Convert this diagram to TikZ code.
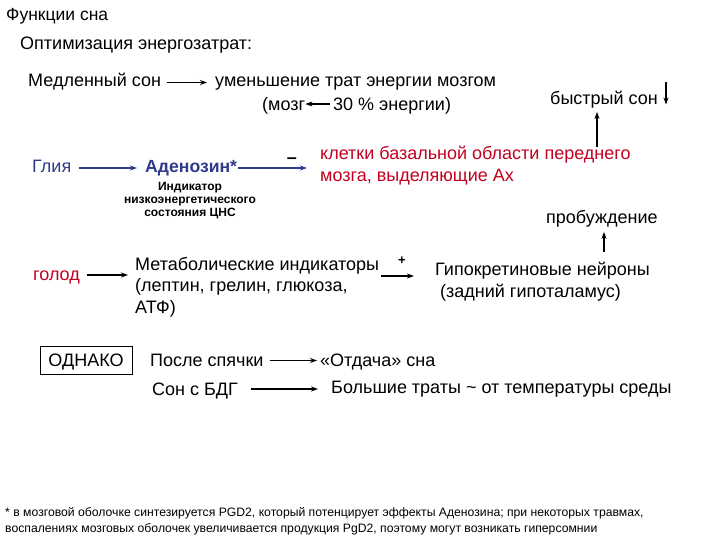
\documentclass[tikz,border=0pt]{standalone}
\usepackage{fontspec}
\setmainfont{Liberation Sans}
\usetikzlibrary{arrows.meta}
\definecolor{navy}{HTML}{2E3A8C}
\definecolor{dred}{HTML}{C40020}
\begin{document}
\begin{tikzpicture}[x=1pt,y=-1pt,
  t/.style={anchor=base west,inner sep=0pt,font=\fontsize{18}{22}\selectfont},
  ind/.style={anchor=base,inner sep=0pt,font=\bfseries\fontsize{12}{14}\selectfont},
  small/.style={anchor=base west,inner sep=0pt,font=\fontsize{12.2}{16}\selectfont},
  arr/.style={-{Stealth[length=7pt,width=5pt]},line width=1.1pt},
]
\useasboundingbox (0,0) rectangle (720,540);
\fill[white] (0,0) rectangle (720,540);

\node[t,font=\fontsize{17.5}{20}\selectfont] (title) at (6,21) {Функции сна};
\node[t] (opt) at (20,50) {Оптимизация энергозатрат:};

% row 1
\node[t] (med) at (28,86.5) {Медленный сон};
\node[t] (umen) at (215,86.5) {уменьшение трат энергии мозгом};
\draw[arr] ([xshift=6pt,yshift=4pt]med.base east) -- ([xshift=-8pt,yshift=4pt]umen.base west);
\node[t] (mozg) at (262,111) {(мозг};
\node[t] (pct) at (333,111) {30 \% энергии)};
\draw[arr] ([xshift=-3pt,yshift=7pt]pct.base west) -- ([xshift=0pt,yshift=7pt]mozg.base east);

\node[t] (bys) at (550,105) {быстрый сон};
\coordinate (dnA) at (666,82.5);
\coordinate (dnB) at (666,104.5);
\draw[arr] (dnA) -- (dnB);

% row 2
\node[t,navy] (glia) at (32,173) {Глия};
\node[t,navy,font=\bfseries\fontsize{17.6}{20}\selectfont] (aden) at (145,173) {Аденозин*};
\draw[arr,navy] ([xshift=8pt,yshift=5pt]glia.base east) -- ([xshift=-8pt,yshift=5pt]aden.base west);
\node[t,dred] (klet1) at (320,160) {клетки базальной области переднего};
\node[t,dred] (klet2) at (320,182) {мозга, выделяющие Ах};
\draw[arr,navy] ([xshift=1pt,yshift=5pt]aden.base east) coordinate (a1) -- ([xshift=-13pt]klet1.west |- a1);
\node[inner sep=0pt,font=\bfseries\fontsize{18}{20}\selectfont] (minus) at (292,161) {–};
\node[ind] (ind1) at (190,190.7) {Индикатор};
\node[ind] (ind2) at (190,204) {низкоэнергетического};
\node[ind] (ind3) at (190,216.7) {состояния ЦНС};
\draw[arr] ([xshift=277pt,yshift=-1pt]klet1.north west) coordinate (kt) -- ([yshift=-3pt]kt |- bys.south);

\node[t] (prob) at (546,223) {пробуждение};

% row 3
\node[t,dred] (golod) at (33,280) {голод};
\node[t] (meta1) at (135,270) {Метаболические индикаторы};
\node[t] (meta2) at (135,291.5) {(лептин, грелин, глюкоза,};
\node[t] (meta3) at (135,313) {АТФ)};
\node[t] (gipo1) at (435,275) {Гипокретиновые нейроны};
\node[t] (gipo2) at (440,297) {(задний гипоталамус)};
\draw[arr] ([xshift=7pt,yshift=5pt]golod.base east) coordinate (g1) -- ([xshift=-7pt]meta1.west |- g1);
\draw[arr] ([xshift=2pt,yshift=-6pt]meta1.base east) coordinate (m1) -- ([xshift=-21pt]gipo1.west |- m1);
\node[inner sep=0pt,font=\bfseries\fontsize{13}{16}\selectfont] (plus) at (402,261) {+};
\draw[arr] ([xshift=169pt,yshift=9pt]gipo1.north west) coordinate (gt) -- ([yshift=-5pt]gt |- prob.south);

% row 4
\node[draw,line width=0.8pt,inner sep=0pt,minimum width=92pt,minimum height=28pt,text height=12.9pt,text depth=0pt,font=\fontsize{18}{20}\selectfont] (odn) at (86,360) {ОДНАКО};
\node[t] (posle) at (150,366.5) {После спячки};
\node[t] (otd) at (320,366) {«Отдача» сна};
\draw[arr] ([xshift=6pt,yshift=6pt]posle.base east) coordinate (p1) -- ([xshift=-3pt]otd.west |- p1);
\node[t] (son) at (152,395) {Сон с БДГ};
\node[t] (bol) at (331,393) {Большие траты \textasciitilde{} от температуры среды};
\draw[arr] ([xshift=13pt,yshift=6pt]son.base east) coordinate (s1) -- ([xshift=-13pt]bol.west |- s1);

% footnote
\node[small] (fn1) at (5,516) {* в мозговой оболочке синтезируется PGD2, который потенцирует эффекты Аденозина; при некоторых травмах,};
\node[small] (fn2) at (5,532) {воспалениях мозговых оболочек увеличивается продукция PgD2, поэтому могут возникать гиперсомнии};
\end{tikzpicture}
\end{document}
